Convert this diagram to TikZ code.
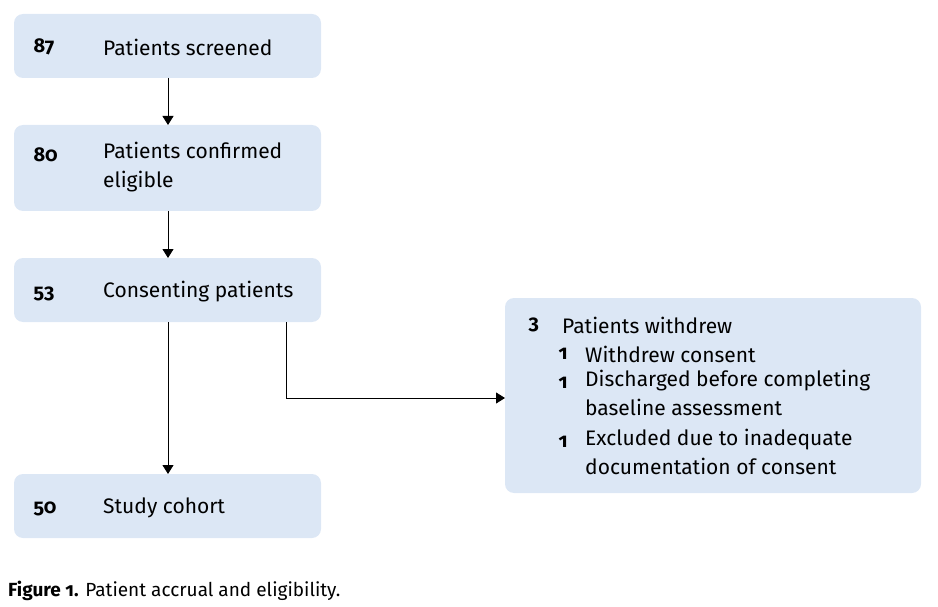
\documentclass[tikz,border=0pt]{standalone}
\usepackage{fontspec}
\setmainfont[Numbers=OldStyle]{Fira Sans}
\usetikzlibrary{arrows.meta}
\definecolor{boxfill}{HTML}{DCE7F5}
\begin{document}
\begin{tikzpicture}[x=1pt,y=-1pt,
  box/.style={fill=boxfill,rounded corners=9pt,draw=none},
  num/.style={anchor=west,font=\fontsize{20}{24}\selectfont\bfseries},
  lab/.style={anchor=west,font=\fontsize{21}{29}\selectfont,align=left,inner sep=0pt},
  arr/.style={-{Triangle[width=11pt,length=9pt]},line width=0.8pt}]
\useasboundingbox (0,0) rectangle (938,607);
\fill[box] (14,14) rectangle (321,78);
\fill[box] (14,125) rectangle (321,211);
\fill[box] (14,258) rectangle (321,322);
\fill[box] (14,474) rectangle (321,538);
\fill[box] (505,298) rectangle (921,493);
\node[num] (n1) at (30,47) {87};
\node[lab] (l1) at (103,47) {Patients screened};
\node[num] (n2) at (30,155) {80};
\node[lab,anchor=north west] (l2) at (103,142) {Patients confirmed\\eligible};
\node[num] (n3) at (30,294) {53};
\node[lab] (l3) at (103,292) {Consenting patients};
\node[num] (n4) at (30,509) {50};
\node[lab] (l4) at (103,508) {Study cohort};
\coordinate (b1) at (168,78); \coordinate (t2) at (168,125);
\coordinate (b2) at (168,211); \coordinate (t3) at (168,258);
\coordinate (b3) at (168,322); \coordinate (t4) at (168,474);
\coordinate (e1) at (286,322); \coordinate (e2) at (505,398);
\draw[arr] (b1) -- (t2);
\draw[arr] (b2) -- (t3);
\draw[arr] (b3) -- (t4);
\draw[arr] (e1) |- (e2);
\node[num] (r0) at (525,325) {3};
\node[lab] (r0l) at (562,325) {Patients withdrew};
\node[num] (r1) at (555,354) {1};
\node[lab] (r1l) at (585,354) {Withdrew consent};
\node[num] (r2) at (555,383) {1};
\node[lab,anchor=north west] (r2l) at (585,370) {Discharged before completing\\baseline assessment};
\node[num] (r3) at (555,442) {1};
\node[lab,anchor=north west] (r3l) at (585,429) {Excluded due to inadequate\\documentation of consent};
\node[anchor=west,inner sep=0pt,font=\fontsize{19}{22}\selectfont] (cap) at (8,591) {\textbf{Figure 1.} Patient accrual and eligibility.};
\end{tikzpicture}
\end{document}
